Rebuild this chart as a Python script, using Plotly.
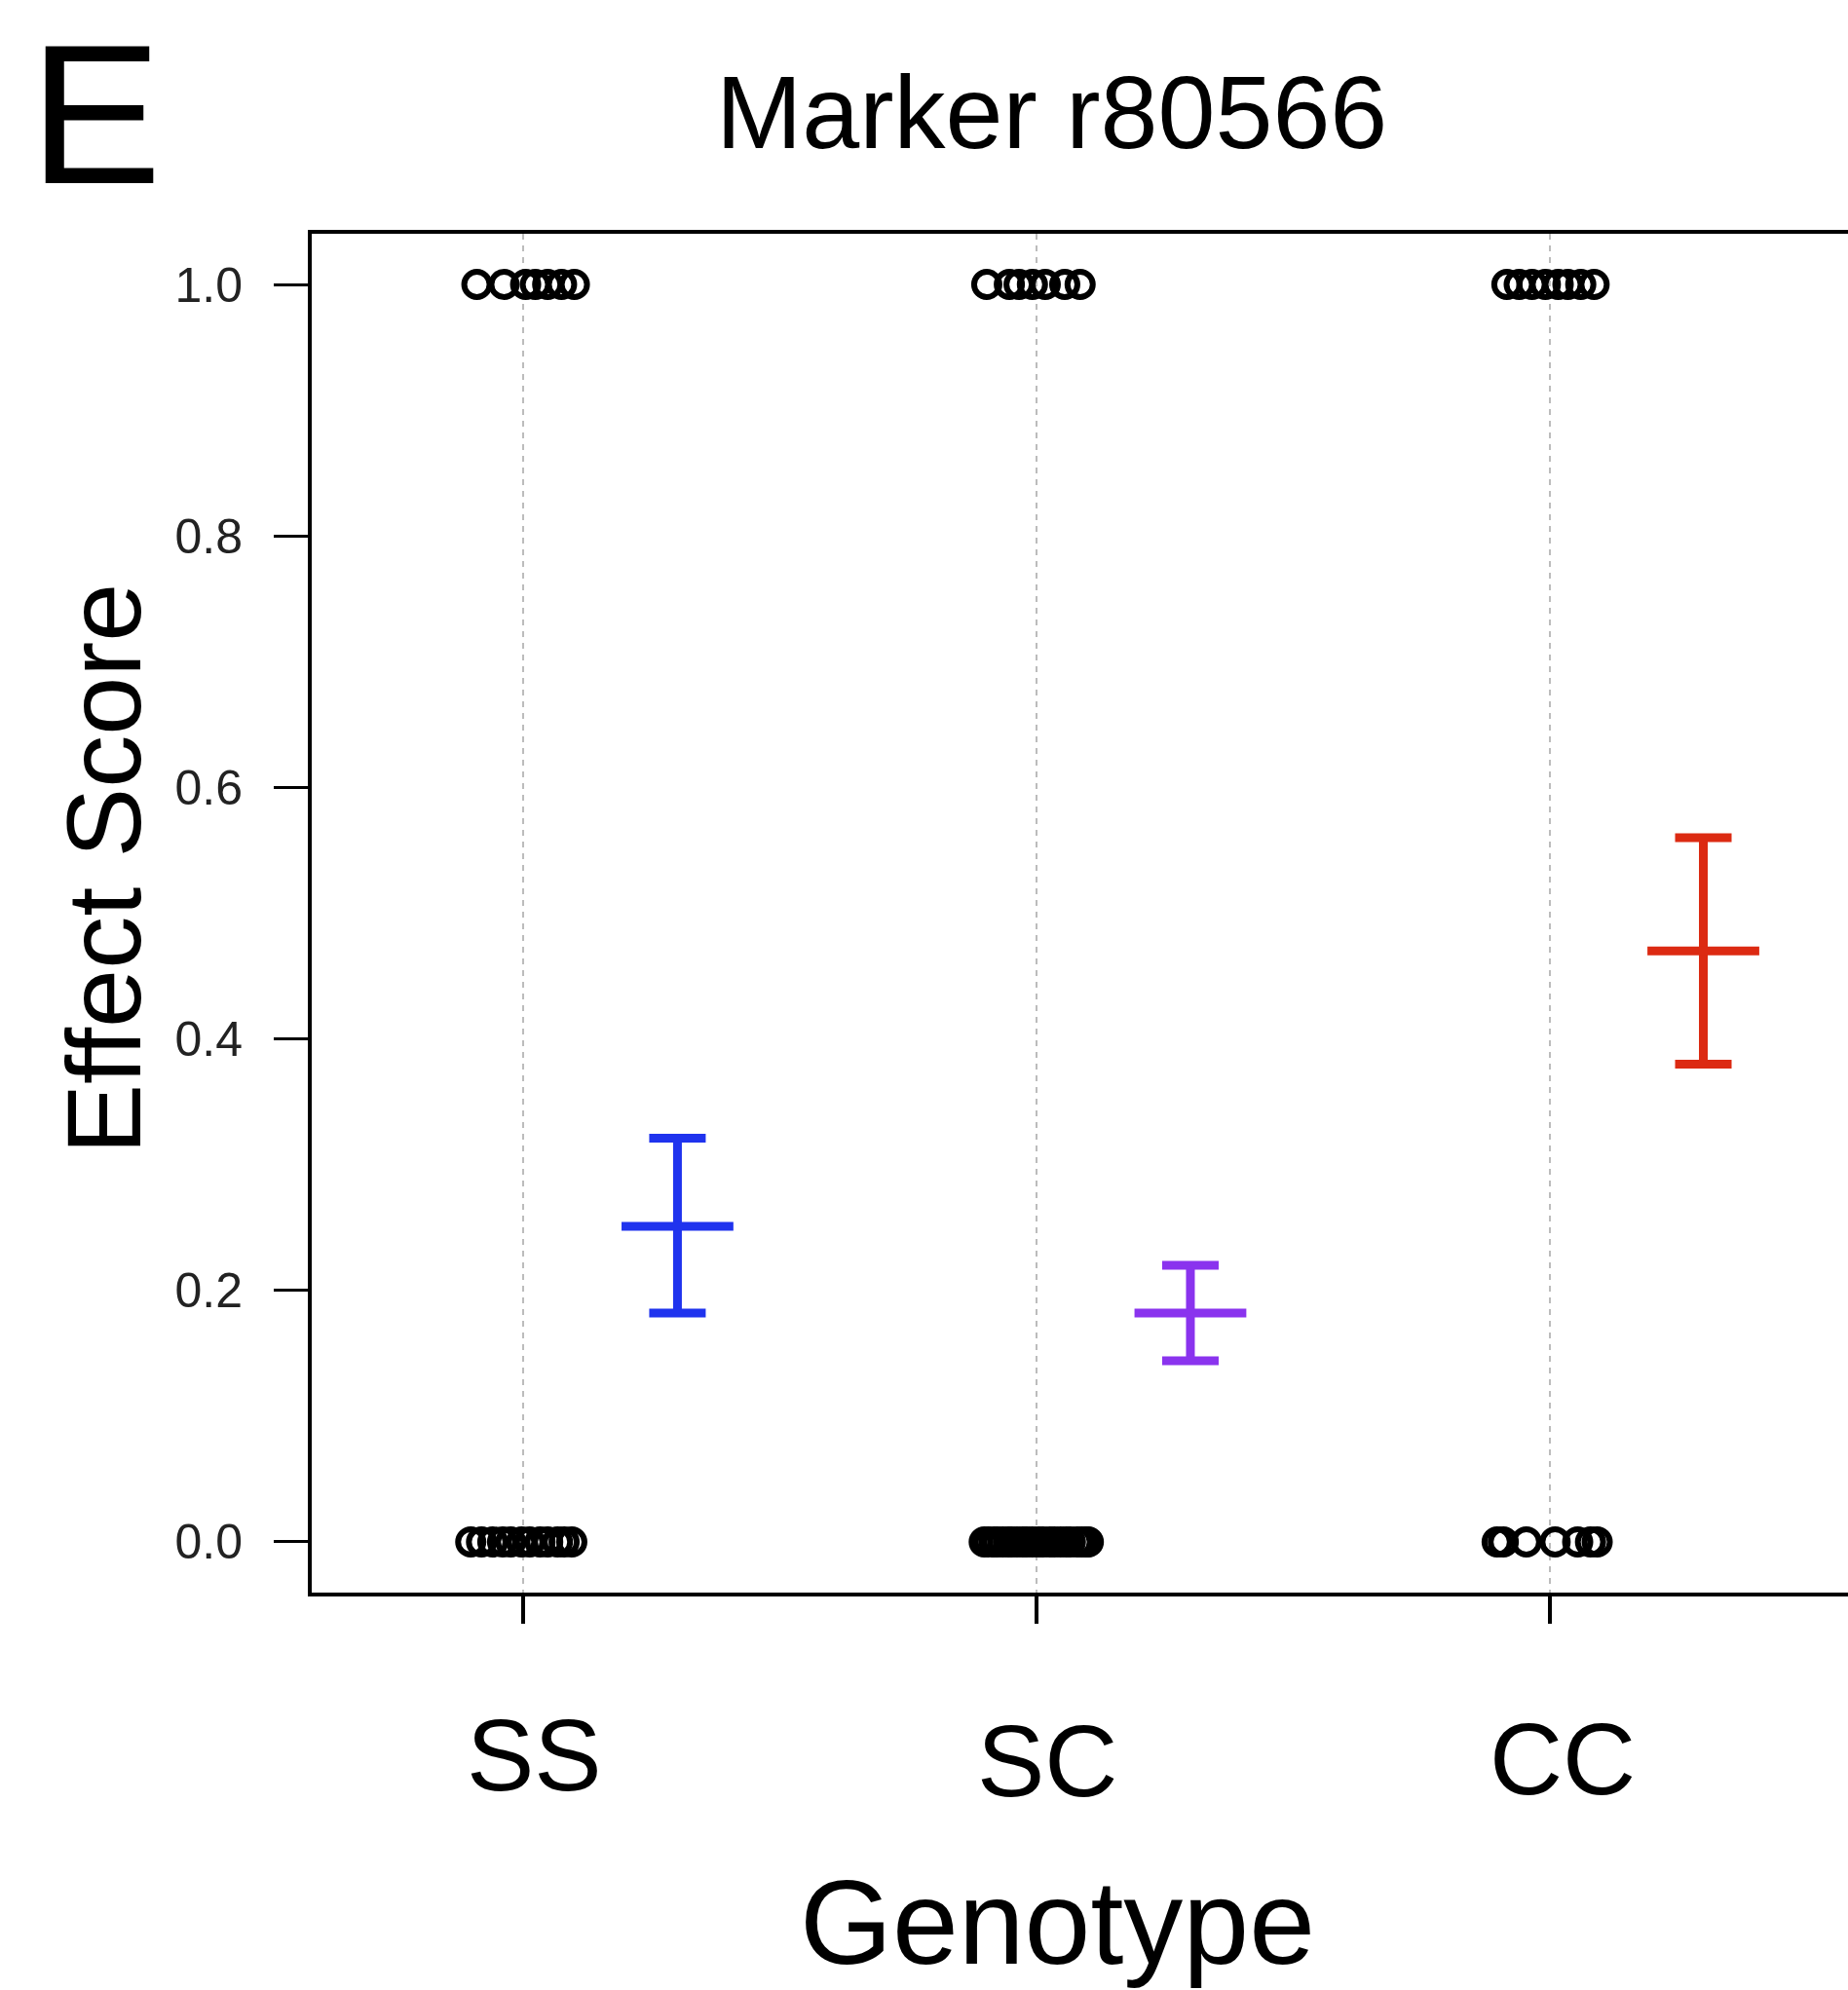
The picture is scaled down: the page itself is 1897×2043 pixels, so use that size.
import plotly.graph_objects as go

# Genotype groups and summary statistics of the effect score
genotypes = ["SS", "SC", "CC"]
group_pos = [1, 2, 3]
mean_score = [0.251, 0.182, 0.470]
upper_ci = [0.321, 0.220, 0.560]
lower_ci = [0.182, 0.144, 0.380]
bar_colors = ["#1f33ee", "#8a33ee", "#dc2a12"]

# Individual observations (binary outcome) with horizontal jitter per genotype
jitter_one = {
    "SS": [-0.091, -0.038, 0.004, 0.023, 0.047, 0.074, 0.099],
    "SC": [-0.097, -0.053, -0.034, -0.008, 0.017, 0.055, 0.085],
    "CC": [-0.083, -0.059, -0.034, -0.008, 0.017, 0.036, 0.061, 0.087],
}
jitter_zero = {
    "SS": [-0.103, -0.082, -0.060, -0.041, -0.025, -0.004, 0.012, 0.032,
           0.047, 0.066, 0.079, 0.094],
    "SC": [-0.102, -0.094, -0.083, -0.077, -0.066, -0.055, -0.049, -0.038,
           -0.027, -0.019, -0.008, 0.004, 0.013, 0.026, 0.035, 0.047, 0.058,
           0.066, 0.079, 0.088, 0.097, 0.101],
    "CC": [-0.102, -0.090, -0.045, 0.011, 0.055, 0.080, 0.093],
}
mean_offset = 0.3
y_ticks = [0.0, 0.2, 0.4, 0.6, 0.8, 1.0]

FONT = "Liberation Sans, Arial, Helvetica, sans-serif"
W, H = 1897, 2043
L, R, T, B = 320, 0, 240, 408


def px_x(p):
    return (p - L) / (W - L - R)


def px_y(p):
    return (H - B - p) / (H - T - B)


fig = go.Figure()

# jittered raw observations
for g, pos in zip(genotypes, group_pos):
    xs = [pos + j for j in jitter_one[g]] + [pos + j for j in jitter_zero[g]]
    ys = [1.0] * len(jitter_one[g]) + [0.0] * len(jitter_zero[g])
    fig.add_trace(go.Scatter(
        x=xs, y=ys, mode="markers",
        marker=dict(symbol="circle-open", size=26, color="black",
                    line=dict(width=6, color="black")),
        showlegend=False, hoverinfo="skip",
    ))

# mean with confidence interval
for i, pos in enumerate(group_pos):
    fig.add_trace(go.Scatter(
        x=[pos + mean_offset], y=[mean_score[i]], mode="markers",
        marker=dict(symbol="line-ew", size=82, color=bar_colors[i],
                    line=dict(width=9, color=bar_colors[i])),
        error_y=dict(type="data", symmetric=False,
                     array=[upper_ci[i] - mean_score[i]],
                     arrayminus=[mean_score[i] - lower_ci[i]],
                     color=bar_colors[i], thickness=9, width=29),
        showlegend=False,
    ))

fig.update_xaxes(
    range=[0.587, 3.582], tickvals=group_pos, showticklabels=False,
    showline=True, linewidth=4, linecolor="black", mirror=True,
    ticks="outside", ticklen=28, tickwidth=3.5, tickcolor="black",
    showgrid=True, gridcolor="#bcbcbc", gridwidth=2, griddash="6px,6px",
    zeroline=False,
)
fig.update_yaxes(
    range=[-0.0403, 1.0403], tickvals=y_ticks,
    ticktext=[f"{v:.1f}" for v in y_ticks],
    showline=True, linewidth=4, linecolor="black",
    ticks="outside", ticklen=35, tickwidth=3, tickcolor="black",
    tickfont=dict(family=FONT, size=50, color="#222222"),
    ticklabelstandoff=22,
    showgrid=False, zeroline=False,
)

annotations = [
    dict(text="E", x=px_x(28), y=px_y(117), xanchor="left", yanchor="middle",
         font=dict(family=FONT, size=204, color="black")),
    dict(text="Marker r80566", x=px_x(1079), y=px_y(115), xanchor="center",
         yanchor="middle", font=dict(family=FONT, size=106, color="black")),
    dict(text="Effect Score", x=px_x(107), y=px_y(892), xanchor="center",
         yanchor="middle", textangle=-90,
         font=dict(family=FONT, size=108, color="black")),
    dict(text="Genotype", x=px_x(1085), y=px_y(1974), xanchor="center",
         yanchor="middle", font=dict(family=FONT, size=122, color="black")),
]
label_px = [(548, 1802), (1075, 1808), (1604, 1806)]
for lab, (lx, ly) in zip(genotypes, label_px):
    annotations.append(dict(text=lab, x=px_x(lx), y=px_y(ly), xanchor="center",
                            yanchor="middle",
                            font=dict(family=FONT, size=104, color="black")))
for a in annotations:
    a.update(xref="paper", yref="paper", showarrow=False)

fig.update_layout(
    width=W, height=H,
    margin=dict(l=L, r=R, t=T, b=B, pad=0),
    paper_bgcolor="white", plot_bgcolor="white",
    annotations=annotations,
)

fig.write_html("out.html")
